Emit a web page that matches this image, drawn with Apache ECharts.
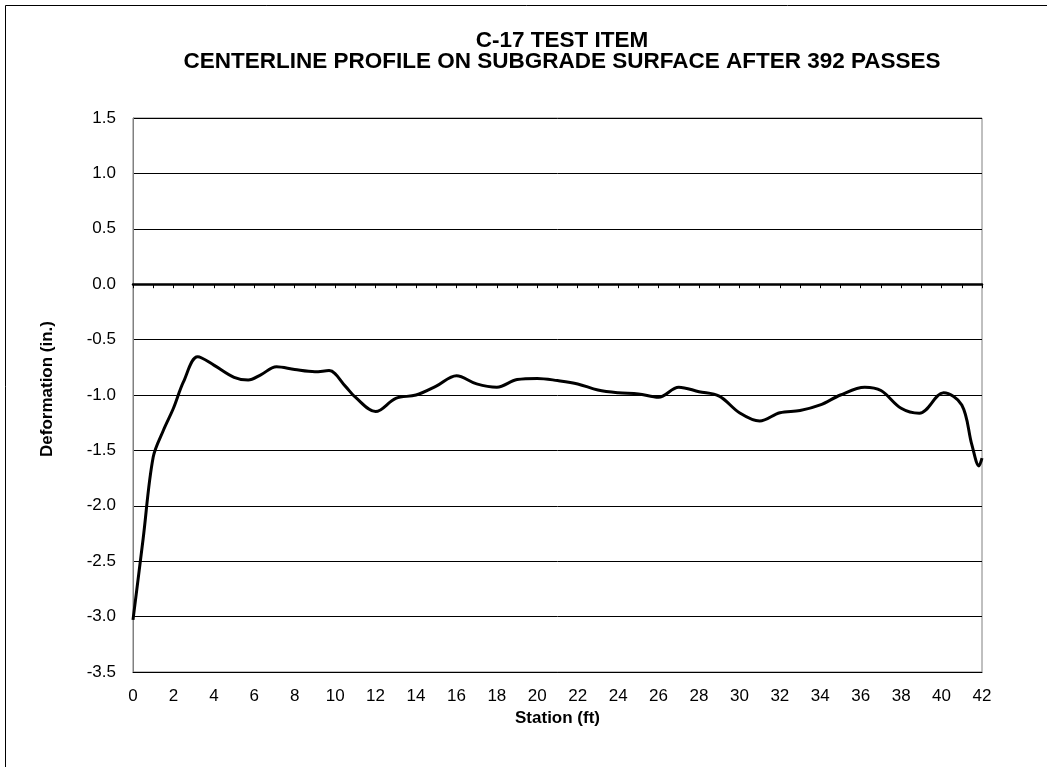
<!DOCTYPE html>
<html>
<head>
<meta charset="utf-8">
<script src="https://cdn.jsdelivr.net/npm/echarts@6/dist/echarts.min.js"></script>
<style>
  html, body { margin: 0; padding: 0; background: #fff; }
  #box { width: 1047px; height: 767px; }
</style>
</head>
<body>
<div id="box"></div>
<script>
// station (ft) and deformation (in.)
var stations = [0, 0.5, 1, 1.5, 2, 2.5, 3.2, 4, 5, 5.7, 6.3, 7.1, 8, 9, 9.7, 10.5, 11, 12, 13, 14,
    15, 16, 17, 18, 19, 20, 21, 22, 23, 24, 25, 26, 27, 28, 29, 30, 31, 32, 33, 34,
    35, 36.2, 37, 38, 38.9, 40.1, 41, 41.5, 41.85, 42];
var deformation = [-3.03, -2.3, -1.56, -1.32, -1.12, -0.88, -0.655, -0.73, -0.84, -0.865, -0.82, -0.745, -0.77, -0.79, -0.78, -0.92, -1.02, -1.15, -1.03, -1.0,
    -0.92, -0.826, -0.9, -0.93, -0.86, -0.85, -0.87, -0.9, -0.955, -0.98, -0.99, -1.02, -0.93, -0.97, -1.01, -1.16, -1.235, -1.16, -1.14, -1.09,
    -1.0, -0.93, -0.96, -1.12, -1.165, -0.98, -1.09, -1.45, -1.64, -1.57];

var titleLines = ['C-17 TEST ITEM', 'CENTERLINE PROFILE ON SUBGRADE SURFACE AFTER 392 PASSES'];

var points = stations.map(function (s, i) { return [s, deformation[i]]; });
var font = "'Liberation Sans', Arial, sans-serif";

var myChart = echarts.init(document.getElementById('box'));
var option = {
    animation: false,
    backgroundColor: '#fff',
    title: {
        text: titleLines.join('\n'),
        left: 557,
        top: 25,
        textAlign: 'center',
        textStyle: {
            fontFamily: font,
            fontSize: 22.5,
            fontWeight: 'bold',
            color: '#000',
            lineHeight: 21
        }
    },
    graphic: [{
        type: 'rect',
        shape: { x: 5.5, y: 5.5, width: 1200, height: 1000 },
        style: { fill: 'none', stroke: '#000', lineWidth: 1 },
        silent: true
    }],
    grid: {
        left: 133,
        right: 65,
        top: 118,
        bottom: 95,
        show: true,
        borderColor: '#808080',
        borderWidth: 1
    },
    xAxis: [
        {
            type: 'value',
            min: 0,
            max: 42,
            interval: 2,
            name: 'Station (ft)',
            nameLocation: 'middle',
            nameGap: 28,
            nameTextStyle: { fontFamily: font, fontSize: 17, fontWeight: 'bold', color: '#000' },
            axisLine: { onZero: false, lineStyle: { color: '#000' } },
            axisTick: { show: false },
            splitLine: { show: false },
            axisLabel: { fontFamily: font, fontSize: 17, color: '#000', margin: 16 }
        },
        {
            // the thick zero line with its small ticks
            type: 'value',
            position: 'top',
            min: 0,
            max: 42,
            interval: 1,
            axisLine: { show: true, onZero: true, lineStyle: { color: '#000', width: 2.5 } },
            axisTick: { show: true, inside: true, length: 4, lineStyle: { color: '#000', width: 1 } },
            axisLabel: { show: false },
            splitLine: { show: false }
        }
    ],
    yAxis: {
        type: 'value',
        min: -3.5,
        max: 1.5,
        interval: 0.5,
        name: 'Deformation (in.)',
        nameLocation: 'middle',
        nameGap: 77,
        nameTextStyle: { fontFamily: font, fontSize: 17, fontWeight: 'bold', color: '#000', padding: [0, 0, 0, 12] },
        axisLine: { show: true, onZero: false, lineStyle: { color: '#808080' } },
        axisTick: { show: false },
        splitLine: { show: true, lineStyle: { color: '#000', width: 1 } },
        axisLabel: {
            fontFamily: font,
            fontSize: 17,
            color: '#000',
            margin: 17,
            formatter: function (v) { return v.toFixed(1); }
        }
    },
    series: [{
        type: 'line',
        xAxisIndex: 0,
        yAxisIndex: 0,
        data: points,
        smooth: 0.35,
        showSymbol: false,
        lineStyle: { color: '#000', width: 3 }
    }]
};
myChart.setOption(option);
</script>
</body>
</html>
